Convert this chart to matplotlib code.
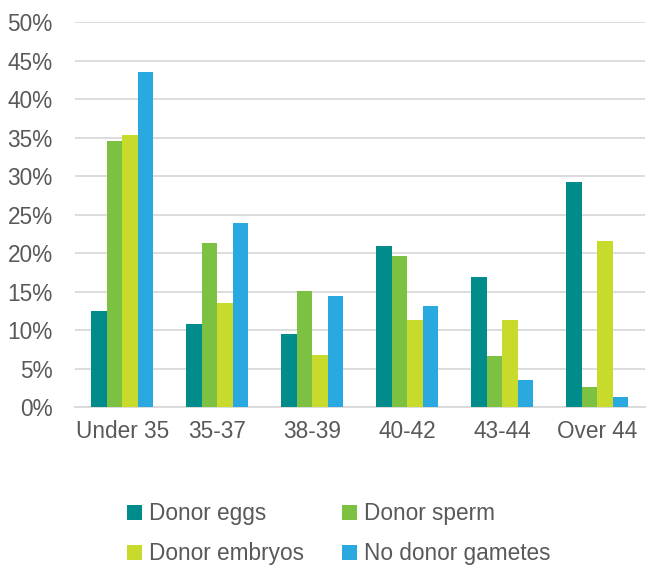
import matplotlib.pyplot as plt
import numpy as np
from matplotlib.patches import Patch

plt.rcParams['font.family'] = ['Liberation Sans', 'DejaVu Sans']

categories = ["Under 35", "35-37", "38-39", "40-42", "43-44", "Over 44"]
series = ["Donor eggs", "Donor sperm", "Donor embryos", "No donor gametes"]
donor_eggs = [12.5, 10.8, 9.5, 20.9, 16.9, 29.2]
donor_sperm = [34.6, 21.3, 15.1, 19.7, 6.7, 2.6]
donor_embryos = [35.3, 13.6, 6.8, 11.3, 11.3, 21.6]
no_donor = [43.5, 23.9, 14.4, 13.2, 3.6, 1.3]
values = [donor_eggs, donor_sperm, donor_embryos, no_donor]
colors = ["#008C8A", "#7DC142", "#C8DA2B", "#29A9E0"]

fig = plt.figure(figsize=(6.46, 5.68), dpi=100)
ax = fig.add_axes([0.116, 0.283, 0.882, 0.678])

x = np.arange(len(categories))
w = 0.163
for i, (vals, c) in enumerate(zip(values, colors)):
    ax.bar(x + (i - 1.5) * w, vals, width=w, color=c, zorder=3)

ax.set_xlim(-0.5, len(categories) - 0.5)
ax.set_ylim(0, 50)
ax.set_yticks(range(0, 51, 5))
ax.set_yticklabels([f"{v}%" for v in range(0, 51, 5)])
ax.set_xticks(x)
ax.set_xticklabels(categories)
ax.tick_params(length=0, labelsize=16.3, labelcolor="#595959")
ax.tick_params(axis='y', pad=16)
ax.tick_params(axis='x', pad=9)
ax.grid(axis='y', color="#D9D9D9", lw=1.3, zorder=0)
for s in ["top", "right", "left"]:
    ax.spines[s].set_visible(False)
ax.spines["bottom"].set_color("#D9D9D9")
ax.spines["bottom"].set_linewidth(1.3)

handles = [Patch(facecolor=c, edgecolor="none", label=s) for c, s in zip(colors, series)]
# column-major fill: put eggs/sperm on the first row
order = [0, 2, 1, 3]
fig.legend(handles=[handles[i] for i in order], ncol=2, loc="center",
           bbox_to_anchor=(0.524, 0.06),
           frameon=False, fontsize=16.3, labelcolor="#595959",
           handlelength=0.65, handleheight=0.65, handletextpad=0.3,
           columnspacing=1.7, labelspacing=0.75)

fig.savefig("out.png", dpi=100)
